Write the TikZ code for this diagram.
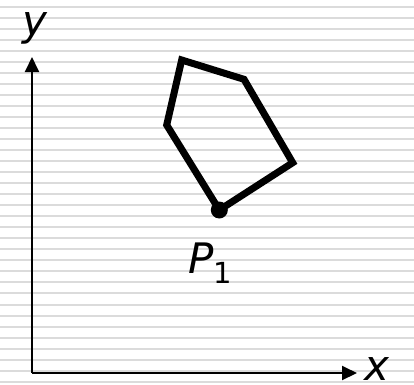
\documentclass[tikz,border=0pt]{standalone}
\usepackage{fontspec}
\setmainfont{DejaVu Sans}
\usetikzlibrary{arrows.meta}
\tikzset{
  stripe/.style={line width=2pt,black!14},
  axis/.style={line width=2pt,-{Triangle[length=15pt,width=14pt]}},
  poly/.style={line width=7pt,line join=miter},
  lbl/.style={inner sep=0pt,anchor=base,font=\fontsize{42}{42}\selectfont\itshape}
}
\begin{document}
\begin{tikzpicture}[x=1pt,y=-1pt]
\useasboundingbox (0,0) rectangle (414,384);

% background lines
\begin{scope}
\clip (0,0) rectangle (414,384);
\fill[white] (0,0) rectangle (414,384);
\foreach \k in {0,...,34} { \draw[stripe] (0,6.7+11.03*\k) -- (414,6.7+11.03*\k); }
\end{scope}

% axes
\coordinate (O) at (32,373);
\coordinate (xend) at (357,373);
\coordinate (yend) at (32,57);
\draw[axis] (O) -- (xend);
\draw[axis] (O) -- (yend);
\node[lbl] (ylab) at (35,35) {y};
\node[lbl] (xlab) at (377,380) {x};

% the polygon
\coordinate (v1) at (219.3,210);
\coordinate (v2) at (292.7,162.7);
\coordinate (v3) at (244,79.3);
\coordinate (v4) at (181.7,60);
\coordinate (v5) at (166.7,125);
\draw[poly] (v1) -- (v2) -- (v3) -- (v4) -- (v5) -- cycle;
\fill (v1) circle (8.5);
\node[lbl] (p1) at (210,273) {P\raisebox{-10pt}{\upshape\fontsize{29}{29}\selectfont 1}};

\end{tikzpicture}
\end{document}
